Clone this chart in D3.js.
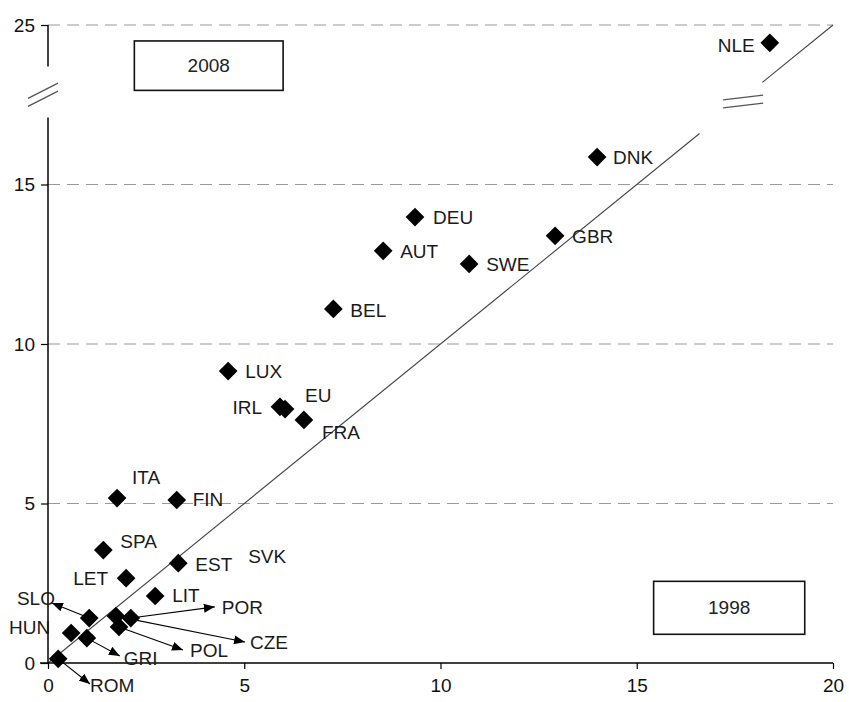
<!DOCTYPE html>
<html>
<head>
<meta charset="utf-8">
<script src="https://cdn.jsdelivr.net/npm/d3@7"></script>
<style>
  body { margin: 0; background: #fff; }
  text { font-family: "Liberation Sans", Arial, sans-serif; }
</style>
</head>
<body>
<div id="chart"></div>
<script>
// values: x = 1998, y = 2008
const countries = ["NLE", "DNK", "DEU", "AUT", "SWE", "GBR", "BEL", "LUX", "IRL", "EU", "FRA",
  "ITA", "FIN", "SPA", "EST", "LET", "LIT", "SLO", "CZE", "POR", "POL", "HUN", "GRI", "ROM"];
const x1998 = [18.39, 13.99, 9.35, 8.54, 10.73, 12.92, 7.27, 4.59, 5.91, 6.04, 6.52,
  1.76, 3.28, 1.41, 3.32, 1.99, 2.73, 1.05, 1.73, 2.11, 1.81, 0.59, 0.99, 0.26];
const y2008 = [24.44, 15.86, 13.98, 12.92, 12.51, 13.39, 11.10, 9.15, 8.03, 7.96, 7.62,
  5.17, 5.11, 3.54, 3.13, 2.66, 2.10, 1.41, 1.47, 1.41, 1.13, 0.94, 0.78, 0.13];

// labels that are moved away with an arrow: where the arrow points (data units)
const arrowNames = ["SLO", "POR", "CZE", "POL", "GRI", "ROM"];
const arrowX = [0.10, 4.25, 5.02, 3.44, 1.83, 1.07];
const arrowY = [1.88, 1.76, 0.66, 0.41, 0.22, -0.66];

const xTicks = [0, 5, 10, 15, 20];
const yTicks = [0, 5, 10, 15, 25];
const yearLabels = ["2008", "1998"];

const width = 849, height = 702;

const svg = d3.select("#chart").append("svg")
  .attr("width", width)
  .attr("height", height);

const x = d3.scaleLinear().domain([0, 20]).range([48, 833]);
// the y axis is broken: everything above 20 is shifted down by 5
const y = d3.scaleLinear().domain([0, 20]).range([663, 25]);
const yv = v => v > 20 ? y(v - 5) : y(v);

const font = 19;

// dashed gridlines
svg.append("g")
  .selectAll("line")
  .data(yTicks.filter(d => d > 0))
  .enter()
  .append("line")
  .attr("x1", x(0))
  .attr("x2", x(20))
  .attr("y1", d => yv(d))
  .attr("y2", d => yv(d))
  .attr("stroke", "#9a9a9a")
  .attr("stroke-width", 1.2)
  .attr("stroke-dasharray", "12,7");

// line of equality, with a gap where the axis is broken
const line = d3.line().x(d => x(d[0])).y(d => y(d[1]));
[[[0, 0], [16.6, 16.6]], [[18.2, 18.2], [20, 20]]].forEach(seg => {
  svg.append("path")
    .attr("d", line(seg))
    .attr("fill", "none")
    .attr("stroke", "#444")
    .attr("stroke-width", 1.1);
});

// x axis
const xAxis = svg.append("g")
  .attr("transform", "translate(0," + y(0) + ")")
  .call(d3.axisBottom(x).tickValues(xTicks).tickSize(6).tickPadding(10));
xAxis.select(".domain").remove();
xAxis.append("line")
  .attr("x1", 40).attr("x2", x(20))
  .attr("stroke", "#000").attr("stroke-width", 1.5);
xAxis.selectAll(".tick line").attr("stroke", "#000").attr("stroke-width", 1.2);
xAxis.selectAll(".tick text")
  .attr("fill", "#111")
  .style("font-size", font + "px")
  .style("font-family", "'Liberation Sans', Arial, sans-serif");

// y axis
const yAxis = svg.append("g")
  .attr("transform", "translate(" + x(0) + ",0)")
  .call(d3.axisLeft(y)
    .tickValues(yTicks.map(d => d > 20 ? d - 5 : d))
    .tickFormat(d => d >= 20 ? d + 5 : d)
    .tickSize(7).tickPadding(6));
yAxis.select(".domain").remove();
yAxis.selectAll(".tick line").attr("stroke", "#000").attr("stroke-width", 1.2);
yAxis.selectAll(".tick text")
  .attr("fill", "#111")
  .style("font-size", font + "px")
  .style("font-family", "'Liberation Sans', Arial, sans-serif");
[[20, 18.7], [17.1, 0]].forEach(seg => {
  yAxis.append("line")
    .attr("y1", y(seg[0])).attr("y2", y(seg[1]))
    .attr("stroke", "#000").attr("stroke-width", 1.5);
});

// break marks on the axis and on the diagonal
const brk = svg.append("g").attr("stroke", "#555").attr("stroke-width", 1.3);
[0, 8].forEach(o => {
  brk.append("line")
    .attr("x1", x(0) - 20).attr("y1", y(17.7) + o)
    .attr("x2", x(0) + 10).attr("y2", y(18.18) + o);
  brk.append("line")
    .attr("x1", x(17.2)).attr("y1", y(17.65) + o)
    .attr("x2", x(18.22)).attr("y2", y(17.8) + o);
});

// arrow marker
svg.append("defs").append("marker")
  .attr("id", "arrow")
  .attr("markerUnits", "userSpaceOnUse")
  .attr("markerWidth", 11).attr("markerHeight", 9)
  .attr("refX", 11).attr("refY", 4.5)
  .attr("orient", "auto")
  .append("path")
  .attr("d", "M0,0L11,4.5L0,9Z")
  .attr("fill", "#000");

const pts = countries.map((c, i) => ({ name: c, x: x1998[i], y: y2008[i] }));
const byName = {};
pts.forEach(p => byName[p.name] = p);

// arrows from a point to its label
const arrows = arrowNames.map((n, i) => ({ name: n, p: byName[n], tx: arrowX[i], ty: arrowY[i] }));
svg.append("g")
  .selectAll("line")
  .data(arrows)
  .enter()
  .append("line")
  .attr("x1", d => x(d.p.x))
  .attr("y1", d => yv(d.p.y))
  .attr("x2", d => x(d.tx))
  .attr("y2", d => yv(d.ty))
  .attr("stroke", "#000")
  .attr("stroke-width", 1.1)
  .attr("marker-end", "url(#arrow)");

// diamonds
svg.append("g")
  .selectAll("path")
  .data(pts)
  .enter()
  .append("path")
  .attr("d", d3.symbol().type(d3.symbolSquare).size(175))
  .attr("transform", d => "translate(" + x(d.x) + "," + yv(d.y) + ") rotate(45)")
  .attr("fill", "#000");

// label placement, pixels from the diamond (or from the arrow tip)
const labelPos = {
  NLE: [-15, 2, "end"], DNK: [16, 0], DEU: [18, 0], AUT: [17, 0], SWE: [17, 0],
  GBR: [17, 0], BEL: [17, 1], LUX: [17, 0], IRL: [-18, 1, "end"], EU: [20, -14],
  FRA: [18, 12], ITA: [15, -21], FIN: [16, -1], SPA: [17, -9], EST: [17, 1],
  LET: [-18, 0, "end"], LIT: [17, -1], HUN: [-21, -6, "end"],
  SLO: [3, -5, "end"], POR: [7, 0], CZE: [5, 0], POL: [7, 0], GRI: [4, 2], ROM: [0, 1]
};

const labels = svg.append("g")
  .style("font-size", font + "px")
  .attr("fill", "#1a1a1a");

pts.forEach(p => {
  const a = arrows.find(d => d.name === p.name);
  const o = labelPos[p.name];
  const bx = a ? x(a.tx) : x(p.x);
  const by = a ? yv(a.ty) : yv(p.y);
  labels.append("text")
    .attr("x", bx + o[0])
    .attr("y", by + o[1])
    .attr("dy", "0.35em")
    .attr("text-anchor", o[2] || "start")
    .text(p.name);
});

// SVK has a label but no visible marker
labels.append("text")
  .attr("x", x(5.1))
  .attr("y", y(3.35))
  .attr("dy", "0.35em")
  .text("SVK");

// year boxes
const boxes = [
  { label: yearLabels[0], x0: 2.2, x1: 5.99, y0: 24.5, y1: 22.95 },
  { label: yearLabels[1], x0: 15.43, x1: 19.28, y0: 2.56, y1: 0.9 }
];
boxes.forEach(b => {
  const g = svg.append("g");
  g.append("rect")
    .attr("x", x(b.x0))
    .attr("y", yv(b.y0))
    .attr("width", x(b.x1) - x(b.x0))
    .attr("height", yv(b.y1) - yv(b.y0))
    .attr("fill", "#fff")
    .attr("stroke", "#111")
    .attr("stroke-width", 1.6);
  g.append("text")
    .attr("x", (x(b.x0) + x(b.x1)) / 2)
    .attr("y", (yv(b.y0) + yv(b.y1)) / 2)
    .attr("dy", "0.35em")
    .attr("text-anchor", "middle")
    .style("font-size", font + "px")
    .attr("fill", "#222")
    .text(b.label);
});
</script>
</body>
</html>
